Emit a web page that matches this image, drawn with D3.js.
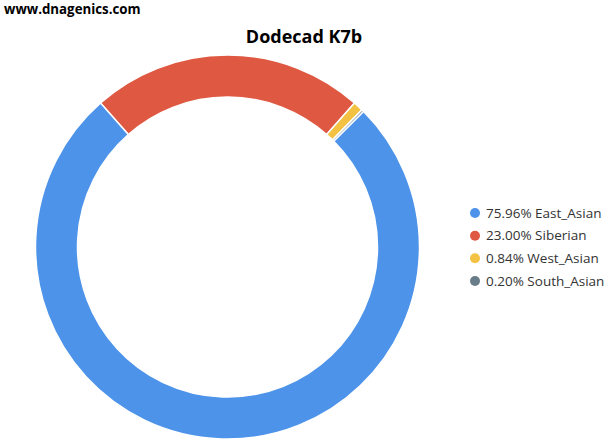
<!DOCTYPE html>
<html><head><meta charset="utf-8">
<script src="https://cdn.jsdelivr.net/npm/d3@7"></script>
<style>body{margin:0;background:#fff}svg{display:block}</style>
</head><body>
<script>
const categories = ["East_Asian", "Siberian", "West_Asian", "South_Asian"];
const values = [75.96, 23.00, 0.84, 0.20];
const colors = ["#4c93e9", "#df5842", "#f3c243", "#687c89"];
const drawOrder = ["Siberian", "West_Asian", "South_Asian", "East_Asian"];

const W = 608, H = 440;
const svg = d3.select("body").append("svg").attr("width", W).attr("height", H);

svg.append("text").attr("x", 4).attr("y", 14)
  .style("font-family", "'Open Sans', sans-serif").style("font-weight", "bold").style("font-size", "13.3px")
  .attr("fill", "#000").text("www.dnagenics.com");

svg.append("text").attr("x", 304).attr("y", 43).attr("text-anchor", "middle")
  .style("font-family", "'Open Sans', sans-serif").style("font-weight", "bold").style("font-size", "18px")
  .attr("fill", "#000").text("Dodecad K7b");

const data = categories.map((c, i) => ({name: c, value: values[i], color: colors[i]}));
const ordered = drawOrder.map(n => data.find(d => d.name === n));
const sibShare = values[1] / d3.sum(values);
const start = -sibShare * Math.PI;
const pie = d3.pie().sort(null).value(d => d.value).startAngle(start).endAngle(start + 2 * Math.PI);
const arc = d3.arc().innerRadius(150).outerRadius(192);

const g = svg.append("g").attr("transform", "translate(227.5,247)");
g.selectAll("path").data(pie(ordered)).join("path")
  .attr("d", arc).attr("fill", d => d.data.color)
  .attr("stroke", "#fff").attr("stroke-width", 1.5);

const color = d3.scaleOrdinal().domain(categories).range(colors);
const ly = d3.scalePoint().domain(categories).range([213, 281]);
const leg = svg.append("g");
const items = leg.selectAll("g").data(data).join("g")
  .attr("transform", d => `translate(475,${ly(d.name)})`);
items.append("circle").attr("r", 5).attr("fill", d => color(d.name));
items.append("text").attr("x", 11).attr("y", 4.8)
  .style("font-family", "'Open Sans', sans-serif").style("font-size", "13.5px")
  .attr("fill", "#333").text(d => d.value.toFixed(2) + "% " + d.name);
</script>
</body></html>
